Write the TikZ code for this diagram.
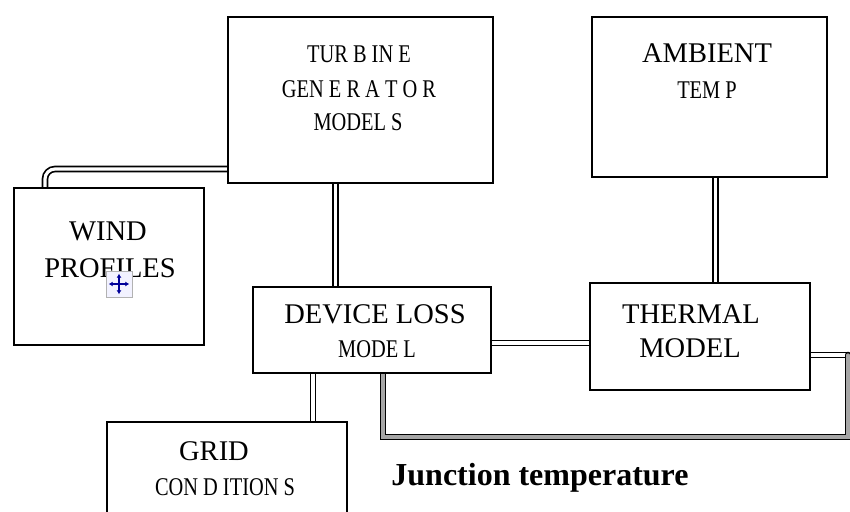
\documentclass[tikz,border=0pt]{standalone}
\usepackage{fontspec}
\setmainfont{Liberation Serif}
\newfontfamily\narrowserif{Liberation Serif}[FakeStretch=0.8]
\usetikzlibrary{arrows.meta,backgrounds}

\begin{document}
\begin{tikzpicture}[x=1pt,y=-1pt,line width=2pt,
  block/.style={draw,fill=white,inner sep=0pt},
  bigtext/.style={anchor=base,inner sep=0pt,font=\fontsize{28.5}{32}\selectfont},
  smalltext/.style={anchor=base,inner sep=0pt,font=\narrowserif\fontsize{25.5}{30}\selectfont},
  pipe/.style={draw,double=white,double distance=3.2pt,line width=1.7pt,line cap=round}]
\path[use as bounding box] (0,0) rectangle (850,511);
% blocks
\node[block,minimum width=265pt,minimum height=166pt] (tg) at (360.5,100) {};
\node[block,minimum width=235pt,minimum height=160pt] (amb) at (709.5,97) {};
\node[block,minimum width=190pt,minimum height=157pt] (wind) at (109,266.5) {};
\node[block,minimum width=238pt,minimum height=86pt] (dev) at (372,330) {};
\node[block,minimum width=220pt,minimum height=107pt] (therm) at (700,336.5) {};
\node[block,minimum width=240pt,minimum height=98pt] (grid) at (227,471) {};
% texts
\node[smalltext] (tgA) at (359,63) {TUR B IN E};
\node[smalltext] (tgB) at (359,97) {GEN E R A T O R};
\node[smalltext] (tgC) at (358,130) {MODEL S};
\node[bigtext] (ambA) at (707,63) {AMBIENT};
\node[smalltext] (ambB) at (707,98) {TEM P};
\node[bigtext] (windA) at (108,240) {WIND};
\node[bigtext] (windB) at (110,277) {PROFILES};
\node[bigtext] (devA) at (375,323) {DEVICE LOSS};
\node[smalltext] (devB) at (377,357) {MODE L};
\node[bigtext] (thermA) at (691,323) {THERMAL};
\node[bigtext] (thermB) at (690,357) {MODEL};
\node[bigtext] (gridA) at (214,460) {GRID};
\node[smalltext] (gridB) at (225,495) {CON D ITION S};
\node[anchor=base,inner sep=0pt,font=\bfseries\fontsize{32}{36}\selectfont] (junc) at (540,485) {Junction temperature};
% move handle
\node[draw=gray!60,fill=blue!5,line width=0.6pt,minimum size=26pt,inner sep=0pt] (move) at (119,284) {};
\draw[blue!60!black,line width=1.3pt,{Latex[length=4pt,width=5pt]}-{Latex[length=4pt,width=5pt]}] ([xshift=3pt]move.west) -- ([xshift=-3pt]move.east);
\draw[blue!60!black,line width=1.3pt,{Latex[length=4pt,width=5pt]}-{Latex[length=4pt,width=5pt]}] ([yshift=-3pt]move.north) -- ([yshift=3pt]move.south);
% connectors
\coordinate (wbend) at (45,169);
\coordinate (fbA) at (848,355);
\coordinate (fbB) at (848,437);
\coordinate (fbC) at (383,437);
\begin{pgfonlayer}{background}
\draw[pipe,rounded corners=10pt] (wbend |- wind.north) -- (wbend) -- (wbend -| tg.west);
\draw[pipe] ([xshift=-25pt]tg.south) -- ([xshift=-25pt]tg.south |- dev.north);
\draw[pipe] ([xshift=6pt]amb.south) -- ([xshift=6pt]amb.south |- therm.north);
\draw[pipe] ([yshift=-13pt]dev.east) -- ([yshift=-13pt]dev.east -| therm.west);
\draw[pipe] ([xshift=86pt]grid.north) -- ([xshift=86pt]grid.north |- dev.south);
\draw[pipe] (therm.east |- fbA) -- (fbA);
\draw[pipe,double=gray!70] (fbA) -- (fbB) -- (fbC) -- (fbC |- dev.south);
\end{pgfonlayer}
\end{tikzpicture}
\end{document}
